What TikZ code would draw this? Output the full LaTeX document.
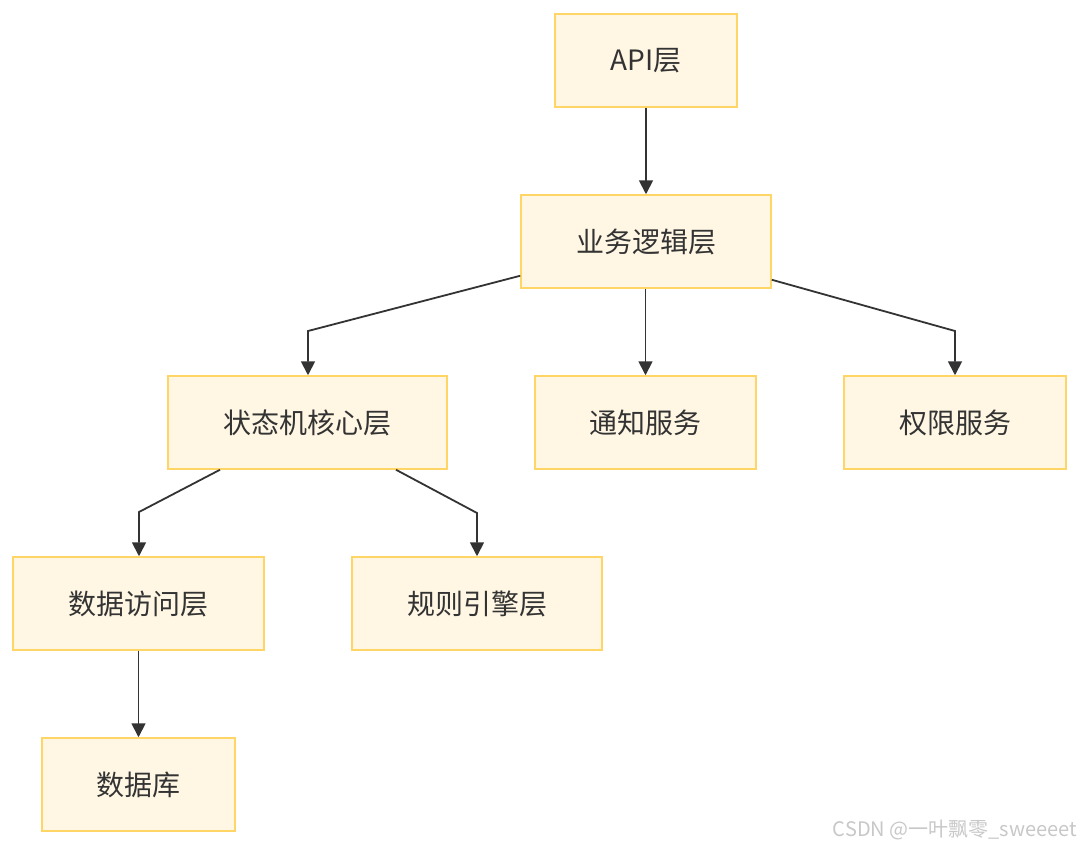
\documentclass[tikz,border=0pt]{standalone}
\usepackage{fontspec}
\setmainfont{Noto Sans CJK SC}
\usetikzlibrary{arrows.meta}
\definecolor{boxfill}{HTML}{FFF7E4}
\definecolor{boxline}{HTML}{FFD666}
\definecolor{ink}{HTML}{333333}
\definecolor{wm}{HTML}{C8C8C8}
\begin{document}
\begin{tikzpicture}[x=1pt,y=-1pt,
  box/.style={draw=boxline,fill=boxfill,line width=1.5pt,inner sep=0pt,
    text=ink,font=\fontsize{28}{33}\selectfont,anchor=center},
  arr/.style={draw=ink,line width=1.8pt,-{Triangle[length=14pt,width=14pt]}}]
\useasboundingbox[fill=white] (0,0) rectangle (1080,846);
\node[box,minimum width=182pt,minimum height=93pt] (api) at (646,60.5) {API层};
\node[box,minimum width=250pt,minimum height=93pt] (biz) at (646,241.5) {业务逻辑层};
\node[box,minimum width=279pt,minimum height=93pt] (sm) at (307.5,422.5) {状态机核心层};
\node[box,minimum width=221pt,minimum height=93pt] (notify) at (645.5,422.5) {通知服务};
\node[box,minimum width=222pt,minimum height=93pt] (perm) at (955,422.5) {权限服务};
\node[box,minimum width=251pt,minimum height=93pt] (dao) at (138.5,603.5) {数据访问层};
\node[box,minimum width=250pt,minimum height=93pt] (rule) at (477,603.5) {规则引擎层};
\node[box,minimum width=193pt,minimum height=93pt] (db) at (138.5,784.5) {数据库};
\coordinate (k1) at (308,331);
\coordinate (k2) at (955,331);
\coordinate (k3) at (139,512);
\coordinate (k4) at (477,513);
\draw[arr] (api) -- (biz);
\draw[arr] ([yshift=13pt]biz.south west) -- (k1) -- (k1 |- sm.north);
\draw[arr] (biz.south -| notify.north) -- (notify.north);
\draw[arr] ([yshift=9pt]biz.south east) -- (k2) -- (perm.north);
\draw[arr] ([xshift=-87.5pt]sm.south) -- (k3) -- (k3 |- dao.north);
\draw[arr] ([xshift=88.5pt]sm.south) -- (k4) -- (rule.north);
\draw[arr] (dao) -- (db);
\node[text=wm,font=\fontsize{20}{24}\selectfont,anchor=east,inner sep=0pt] (wmk) at (1077,830) {CSDN @一叶飘零\_sweeeet};
\end{tikzpicture}
\end{document}
